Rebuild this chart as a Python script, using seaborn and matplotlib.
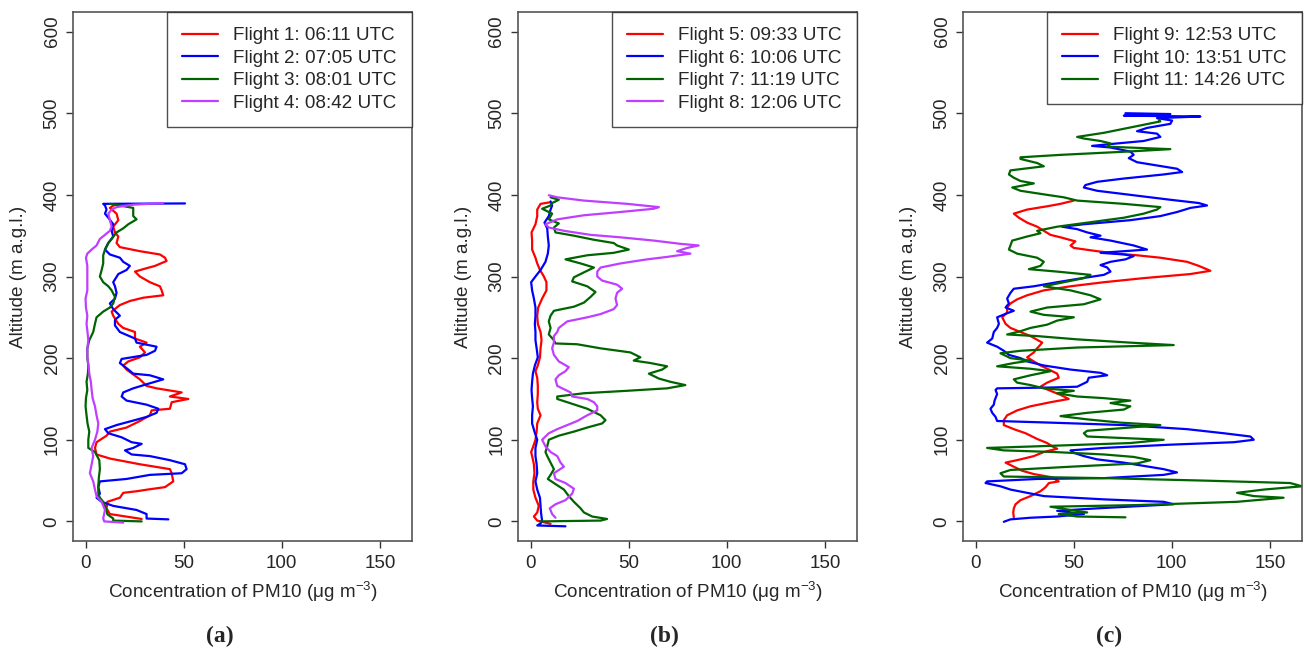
import matplotlib
matplotlib.use("Agg")
import matplotlib.pyplot as plt
import seaborn as sns
import pandas as pd
from matplotlib.lines import Line2D

sns.set_style("white")
plt.rcParams['font.family'] = ['Liberation Sans', 'DejaVu Sans']
plt.rcParams['mathtext.fontset'] = 'custom'
plt.rcParams['mathtext.rm'] = 'Liberation Sans'
plt.rcParams['mathtext.it'] = 'Liberation Sans:italic'
plt.rcParams['mathtext.bf'] = 'Liberation Sans:bold'

# ---------------- data (altitude m a.g.l., PM10 concentration ug/m3) ----------------
# Panel (a)
f1_alt = [3, 9, 16, 24, 29, 35, 37, 39, 42, 49, 59, 64, 70, 77, 82, 90, 97, 105, 110, 115, 123, 130,
          136, 138, 146, 150, 153, 158, 163, 166, 174, 186, 191, 196, 201, 207, 214, 219, 224, 232, 237,
          242, 252, 257, 265, 270, 274, 277, 283, 288, 293, 300, 306, 309, 313, 319, 323, 327, 331, 336,
          341, 349, 354, 361, 369, 377, 384, 388]
f1_conc = [28.6, 12.4, 10.7, 11.1, 17.5, 19.2, 26.2, 31.6, 40.5, 44.7, 43.9, 43.0, 27.7, 12.4, 5.6, 4.8,
           5.6, 10.7, 12.4, 20.9, 27.7, 32.8, 33.7, 43.0, 43.9, 52.4, 43.0, 49.0, 36.2, 31.1, 27.7, 20.9,
           19.2, 21.8, 27.7, 30.3, 27.7, 31.1, 25.2, 25.2, 19.2, 16.7, 14.1, 13.3, 17.5, 22.6, 29.4, 39.6,
           38.8, 37.9, 32.8, 27.7, 25.2, 29.4, 35.4, 41.3, 40.5, 37.9, 27.7, 17.5, 15.8, 16.7, 15.0, 14.1,
           16.7, 15.8, 12.4, 15.0]

f2_alt = [2.5, 3.5, 9, 14, 19, 24, 29, 34, 42, 49, 52, 57, 59, 64, 70, 75, 80, 82, 87, 90, 95, 97, 103,
          108, 113, 118, 123, 128, 133, 138, 143, 148, 153, 158, 163, 168, 174, 179, 181, 186, 194, 199,
          204, 209, 214, 219, 224, 232, 240, 247, 252, 260, 267, 273, 280, 288, 293, 303, 308, 313, 318,
          323, 327, 333, 341, 349, 356, 364, 372, 377, 382, 387, 389, 389.5]
f2_conc = [42.2, 31.1, 31.1, 26.0, 14.1, 8.2, 5.6, 7.3, 6.5, 7.3, 20.9, 32.8, 49.0, 51.5, 50.7, 43.0,
           32.8, 23.5, 20.1, 24.3, 28.6, 23.5, 18.4, 11.6, 9.9, 15.8, 23.5, 31.1, 36.2, 37.1, 31.1, 20.9,
           18.4, 19.2, 24.3, 31.1, 39.6, 32.8, 24.3, 21.8, 17.5, 18.4, 31.1, 35.4, 36.2, 26.0, 25.2, 17.5,
           15.0, 15.0, 17.5, 14.1, 12.4, 15.0, 15.8, 15.0, 14.1, 16.7, 20.9, 22.6, 19.2, 17.5, 12.4, 9.9,
           11.6, 14.1, 13.3, 14.1, 11.6, 9.9, 10.7, 9.9, 9.0, 50.7]

f3_alt = [0, 1, 3.6, 8.6, 16, 24, 29, 34, 44, 54, 64, 75, 85, 90, 100, 110, 120, 130, 141, 151, 161,
          171, 181, 191, 201, 212, 222, 232, 242, 250, 257, 262, 267, 275, 283, 288, 293, 300, 308, 316,
          326, 333, 341, 346, 354, 359, 364, 370, 374, 379, 384, 387, 389]
f3_conc = [28.6, 14.1, 14.1, 11.1, 10.4, 9.0, 7.3, 6.5, 6.5, 6.8, 7.3, 7.0, 4.8, 1.4, 1.4, 1.9, 1.0,
           0.5, 0.0, 0.2, 0.9, 0.5, 1.2, 1.4, 0.9, 0.9, 1.9, 3.9, 4.8, 5.6, 9.0, 12.4, 14.1, 15.0, 13.3,
           11.6, 9.0, 7.3, 8.2, 9.0, 9.0, 9.9, 11.6, 13.3, 15.8, 19.2, 21.8, 26.0, 24.3, 24.3, 24.3,
           17.5, 12.4]

f4_alt = [-1.5, 0, 3.6, 14, 24, 31, 39, 49, 59, 70, 80, 90, 100, 110, 120, 130, 141, 151, 161, 171,
          181, 191, 201, 212, 222, 232, 242, 252, 262, 273, 283, 293, 303, 313, 323, 328, 333, 338, 346,
          351, 356, 361, 369, 377, 382, 385, 388, 390]
f4_conc = [19.2, 9.5, 9.0, 9.9, 8.2, 5.6, 4.8, 3.9, 2.2, 3.1, 3.9, 3.1, 4.8, 6.0, 6.5, 5.6, 4.8, 3.6,
           3.1, 2.7, 1.9, 1.5, 0.9, 0.9, 1.4, 1.0, 0.5, 0.9, 0.2, 0.0, 0.9, 0.9, 0.9, 0.9, 0.2, 0.9,
           3.1, 5.6, 7.3, 9.9, 12.4, 13.3, 12.4, 11.6, 13.3, 15.8, 24.3, 39.6]

# Panel (b)
f5_alt = [-3, 1, 6, 11, 19, 29, 39, 49, 59, 70, 80, 85, 92, 100, 110, 120, 130, 138, 146, 156, 166,
          176, 184, 191, 201, 212, 222, 232, 242, 252, 262, 273, 283, 293, 300, 308, 316, 323, 333, 344,
          354, 364, 374, 382, 389, 391]
f5_conc = [10.2, 3.4, 1.7, 3.4, 4.2, 2.5, 1.4, 1.4, 2.0, 1.7, 0.8, 0.3, 1.4, 2.5, 3.1, 3.4, 5.1, 3.7,
           3.4, 3.7, 3.7, 3.4, 2.5, 3.7, 4.8, 5.1, 5.6, 5.1, 3.7, 3.4, 3.9, 5.9, 8.1, 8.1, 6.8, 4.8, 3.4,
           2.5, 0.8, 0.8, 0.5, 2.5, 3.4, 3.4, 5.1, 10.2]

f6_alt = [-6, -5, -2.5, 1, 9, 19, 29, 39, 49, 59, 70, 80, 90, 100, 110, 120, 130, 141, 151, 161, 171,
          181, 191, 201, 212, 222, 232, 242, 252, 262, 273, 283, 293, 300, 308, 318, 328, 338, 349, 359,
          366, 374, 382, 387, 392]
f6_conc = [17.8, 3.4, 5.1, 5.9, 5.4, 5.1, 4.8, 3.4, 2.5, 3.4, 3.1, 2.5, 2.5, 3.4, 2.0, 0.8, 0.8, 1.2,
           0.8, 0.5, 0.8, 1.2, 2.2, 3.7, 3.1, 2.5, 2.5, 2.2, 2.5, 2.5, 1.7, 0.8, 0.3, 2.5, 5.1, 7.6, 8.8,
           9.3, 8.8, 8.5, 7.1, 9.3, 10.2, 11.0, 10.2]

f7_alt = [0, 1, 3, 6, 11, 16, 24, 31, 39, 47, 52, 57, 64, 72, 80, 85, 92, 100, 105, 110, 115, 120, 124,
          130, 138, 146, 150, 153, 157, 160, 163, 167, 171, 175, 181, 186, 190, 194, 197, 201, 207, 212,
          217, 218, 222, 229, 237, 245, 252, 258, 263, 268, 275, 281, 288, 294, 299, 306, 311, 316, 321,
          326, 329, 333, 338, 341, 345, 350, 354, 360, 365, 370, 377, 383, 387, 390, 394, 397]
f7_conc = [5.0, 35.7, 39.0, 31.4, 27.2, 25.5, 22.1, 19.5, 17.0, 11.9, 8.8, 10.2, 11.9, 10.2, 8.5, 7.6,
           8.5, 9.3, 14.4, 22.1, 28.9, 36.5, 38.2, 35.7, 28.9, 18.7, 13.6, 13.6, 27.2, 49.2, 69.6, 78.9,
           71.3, 65.4, 60.3, 67.1, 69.6, 61.1, 52.6, 56.0, 50.9, 35.7, 23.8, 12.7, 11.9, 9.3, 10.2, 9.3,
           10.2, 11.9, 22.1, 27.2, 30.6, 33.1, 28.9, 21.2, 22.1, 28.0, 32.3, 25.5, 17.8, 28.9, 42.4, 50.1,
           44.1, 42.4, 32.3, 22.1, 12.7, 11.9, 14.4, 9.3, 11.0, 5.9, 10.2, 11.0, 14.4, 10.2]

f8_alt = [4.5, 9, 16, 21, 26, 34, 40, 47, 52, 59, 67, 72, 80, 85, 92, 100, 108, 113, 118, 123, 130, 136,
          141, 146, 150, 153, 158, 166, 174, 179, 184, 189, 196, 204, 212, 219, 227, 232, 237, 245, 250,
          254, 260, 265, 273, 280, 285, 290, 295, 300, 306, 311, 316, 321, 324, 328, 331, 335, 338, 340,
          344, 348, 351, 356, 360, 364, 370, 375, 379, 383, 385, 389, 393, 397, 399.5]
f8_conc = [12.7, 11.0, 9.8, 12.7, 17.8, 21.2, 22.1, 17.8, 12.7, 11.9, 17.0, 15.3, 13.6, 10.2, 7.6, 5.9,
           9.3, 13.6, 18.7, 23.8, 28.9, 34.0, 34.0, 32.3, 28.9, 21.2, 20.4, 13.6, 12.7, 14.4, 17.8, 19.5,
           14.4, 11.9, 11.0, 11.9, 11.9, 13.6, 14.4, 18.7, 28.9, 35.7, 42.4, 44.1, 43.3, 44.1, 46.7, 44.1,
           36.5, 34.0, 34.0, 35.7, 45.8, 59.4, 69.6, 81.5, 74.7, 79.8, 85.7, 76.4, 62.8, 45.8, 30.6, 17.0,
           9.3, 7.6, 13.6, 27.2, 45.8, 62.8, 65.4, 49.2, 27.2, 13.6, 9.3]

# Panel (c)
f9_alt = [5, 11, 16, 21, 26, 31, 37, 42, 47, 49, 54, 58, 62, 67, 72, 76, 80, 85, 89, 92, 96, 101, 108,
          113, 118, 124, 130, 136, 141, 146, 150, 155, 160, 165, 170, 176, 181, 186, 191, 196, 201, 207,
          212, 219, 227, 232, 237, 242, 250, 256, 262, 267, 272, 277, 283, 288, 293, 298, 303, 307, 313,
          318, 323, 326, 328, 331, 335, 338, 343, 348, 351, 356, 361, 366, 372, 377, 382, 386, 389, 393]
f9_conc = [19.5, 19.2, 19.5, 20.4, 22.9, 28.0, 33.1, 35.7, 37.4, 42.4, 39.0, 29.7, 23.8, 19.5, 15.3,
           22.9, 29.7, 34.8, 41.6, 39.0, 36.5, 31.4, 25.5, 19.5, 14.4, 14.4, 16.1, 21.2, 28.0, 38.2, 47.5,
           43.3, 38.2, 33.1, 36.5, 42.4, 41.6, 37.4, 33.1, 29.7, 26.3, 29.7, 31.4, 34.0, 28.0, 22.9, 17.8,
           15.3, 13.6, 16.1, 16.1, 17.8, 21.2, 26.3, 34.8, 48.4, 65.4, 85.7, 109.5, 119.7, 113.8, 107.8,
           94.2, 82.3, 72.2, 62.0, 50.1, 48.4, 50.9, 43.3, 38.2, 34.8, 31.4, 26.3, 22.1, 19.5, 26.3, 36.5,
           43.3, 50.1]

f10_alt = [-0.5, 2.5, 4.5, 6, 9, 13, 16, 21, 24, 27, 31, 35, 39, 43, 47, 49, 52, 53, 57, 60, 64, 68, 72,
           76, 80, 84, 87, 90, 94, 97, 100, 104, 108, 113, 118, 121, 123, 128, 133, 138, 143, 148, 156,
           161, 163, 164, 165, 171, 176, 179, 182, 186, 191, 196, 200, 204, 209, 214, 219, 224, 232, 237,
           242, 250, 255, 258, 262, 267, 273, 280, 285, 288, 293, 297, 302, 306, 311, 314, 318, 321, 325,
           327, 329, 333, 338, 344, 348, 350, 354, 358, 361, 364, 369, 374, 379, 384, 387, 390, 394, 399,
           405, 409, 412, 416, 420, 425, 428, 432, 436, 440, 445, 449, 453, 458, 460, 463, 466, 471, 475,
           478, 482, 487, 491, 494, 496, 497, 499, 500]
f10_conc = [14.4, 17.8, 28.0, 41.6, 55.2, 41.6, 62.0, 101.0, 95.9, 65.4, 34.8, 26.3, 17.8, 12.7, 5.1,
            5.9, 31.4, 65.4, 95.9, 102.7, 95.9, 85.7, 75.6, 62.0, 55.2, 50.1, 48.4, 65.4, 99.3, 131.6,
            141.8, 140.1, 126.5, 107.8, 75.6, 38.2, 11.0, 10.2, 8.5, 7.6, 9.3, 9.7, 11.0, 10.2, 11.0,
            38.2, 51.8, 56.9, 57.7, 67.1, 63.7, 48.4, 34.8, 26.3, 22.9, 17.0, 14.4, 11.0, 5.9, 8.5, 9.3,
            11.0, 11.9, 11.0, 16.1, 19.5, 15.3, 17.0, 16.1, 17.8, 19.5, 29.7, 41.6, 51.8, 65.4, 68.8,
            67.1, 63.7, 68.8, 76.4, 80.6, 75.6, 63.7, 87.4, 80.6, 68.8, 58.6, 63.7, 56.9, 51.8, 44.1,
            55.2, 78.9, 94.2, 102.7, 109.5, 118.0, 113.8, 99.3, 82.3, 62.0, 55.2, 56.0, 62.0, 75.6, 95.9,
            105.3, 102.7, 92.5, 82.3, 78.1, 80.6, 78.9, 68.8, 59.4, 72.2, 85.7, 94.2, 92.5, 82.3, 87.4,
            99.3, 100.2, 92.5, 114.6, 75.6, 99.3, 76.4]

f11_alt = [5, 6, 9, 11, 14, 18, 20, 24, 29, 31, 35, 39, 43, 47, 50, 53, 55, 59, 63, 67, 71, 75, 79, 82,
           85, 87, 90, 92, 96, 100, 104, 108, 111, 115, 118, 121, 125, 129, 133, 137, 141, 145, 148, 151,
           153, 157, 160, 163, 167, 170, 174, 179, 184, 187, 190, 194, 197, 200, 206, 209, 213, 216, 219,
           223, 227, 229, 233, 237, 241, 246, 250, 253, 257, 262, 266, 272, 277, 283, 288, 293, 298, 302,
           306, 309, 313, 318, 323, 328, 333, 338, 344, 349, 353, 356, 361, 366, 372, 377, 382, 385, 389,
           393, 397, 400, 405, 409, 414, 417, 421, 425, 430, 435, 439, 444, 446, 449, 453, 456, 459, 463,
           466, 469, 471, 476, 481, 486, 490, 492]
f11_conc = [76.4, 51.8, 42.4, 56.9, 48.4, 38.2, 82.3, 133.3, 157.0, 141.8, 133.3, 146.9, 166.4, 160.4,
            116.3, 65.4, 14.4, 12.7, 17.8, 48.4, 82.3, 89.1, 80.6, 65.4, 39.9, 14.4, 5.9, 31.4, 78.9,
            95.9, 56.9, 55.2, 56.9, 78.9, 94.2, 73.9, 56.9, 43.3, 56.9, 75.6, 78.9, 68.8, 78.9, 65.4,
            51.8, 41.6, 50.1, 34.8, 28.0, 21.2, 19.5, 28.0, 38.2, 28.0, 11.0, 19.5, 28.0, 17.8, 12.7,
            22.9, 51.8, 101.0, 78.9, 51.8, 31.4, 16.1, 22.9, 28.0, 36.5, 41.6, 50.1, 34.8, 28.0, 36.5,
            55.2, 63.7, 58.6, 48.4, 34.8, 45.0, 55.2, 58.6, 41.6, 27.2, 33.1, 34.8, 31.4, 21.2, 17.0,
            17.8, 18.7, 26.3, 33.1, 31.4, 41.6, 56.9, 75.6, 85.7, 92.5, 94.2, 75.6, 51.8, 45.0, 36.5,
            22.9, 18.7, 29.7, 22.9, 19.5, 17.0, 17.8, 34.8, 31.4, 22.9, 22.9, 43.3, 77.2, 99.3, 67.1,
            68.8, 63.7, 55.2, 51.8, 65.4, 75.6, 85.7, 94.2, 93.4]

labels_a = ["Flight 1: 06:11 UTC", "Flight 2: 07:05 UTC", "Flight 3: 08:01 UTC", "Flight 4: 08:42 UTC"]
labels_b = ["Flight 5: 09:33 UTC", "Flight 6: 10:06 UTC", "Flight 7: 11:19 UTC", "Flight 8: 12:06 UTC"]
labels_c = ["Flight 9: 12:53 UTC", "Flight 10: 13:51 UTC", "Flight 11: 14:26 UTC"]
panel_tags = ["(a)", "(b)", "(c)"]
x_ticks = [0, 50, 100, 150]
y_ticks = [0, 100, 200, 300, 400, 500, 600]

colors = ["#FF0000", "#0000FF", "#006400", "#BF3EFF"]

panels = [
    (labels_a, [(f1_alt, f1_conc), (f2_alt, f2_conc), (f3_alt, f3_conc), (f4_alt, f4_conc)]),
    (labels_b, [(f5_alt, f5_conc), (f6_alt, f6_conc), (f7_alt, f7_conc), (f8_alt, f8_conc)]),
    (labels_c, [(f9_alt, f9_conc), (f10_alt, f10_conc), (f11_alt, f11_conc)]),
]

W, H = 1304, 654
FS = 13.6
fig = plt.figure(figsize=(W / 100, H / 100), dpi=100)
lefts = [73, 518, 963]
box_w, box_top, box_bot = 339, 12, 541
tag_x = [220, 664, 1109]

for i, (labels, series) in enumerate(panels):
    ax = fig.add_axes([lefts[i] / W, 1 - box_bot / H, box_w / W, (box_bot - box_top) / H])
    frames = []
    for lab, (alt, conc) in zip(labels, series):
        frames.append(pd.DataFrame({"alt": alt, "conc": conc, "flight": lab}))
    df = pd.concat(frames, ignore_index=True)
    pal = dict(zip(labels, colors))
    sns.lineplot(data=df, x="conc", y="alt", hue="flight", palette=pal, sort=False,
                 estimator=None, lw=1.6, ax=ax, legend=False)
    ax.set_xlim(-6.4, 166.4)
    ax.set_ylim(-24, 624)
    ax.set_xticks(x_ticks)
    ax.set_yticks(y_ticks)
    ax.set_xticklabels([str(t) for t in x_ticks], fontsize=FS)
    ax.set_yticklabels([str(t) for t in y_ticks], fontsize=FS, rotation=90, va="center")
    ax.tick_params(axis="both", direction="out", length=5, width=1, color="#333333", pad=4,
                   bottom=True, left=True)
    ax.tick_params(axis="x", pad=5)
    for sp in ax.spines.values():
        sp.set_color("#555555")
        sp.set_linewidth(1.2)
    ax.set_xlabel("Concentration of PM10 (μg m$^{-3}$)", fontsize=FS, labelpad=6)
    ax.set_ylabel("Altitude (m a.g.l.)", fontsize=FS, labelpad=12)
    handles = [Line2D([], [], color=c, lw=1.6) for c in colors[:len(labels)]]
    leg = ax.legend(handles, labels, loc="upper right", fontsize=FS, frameon=True, fancybox=False,
                    borderaxespad=0, handlelength=1.9, handletextpad=0.8, labelspacing=0.28,
                    borderpad=0.8)
    leg.get_frame().set_edgecolor("#222222")
    leg.get_frame().set_linewidth(1.0)
    fig.text(tag_x[i] / W, 1 - 636 / H, panel_tags[i], ha="center", va="center",
             fontsize=17, fontweight="bold", family="Liberation Serif")

fig.savefig("out.png", dpi=100)
